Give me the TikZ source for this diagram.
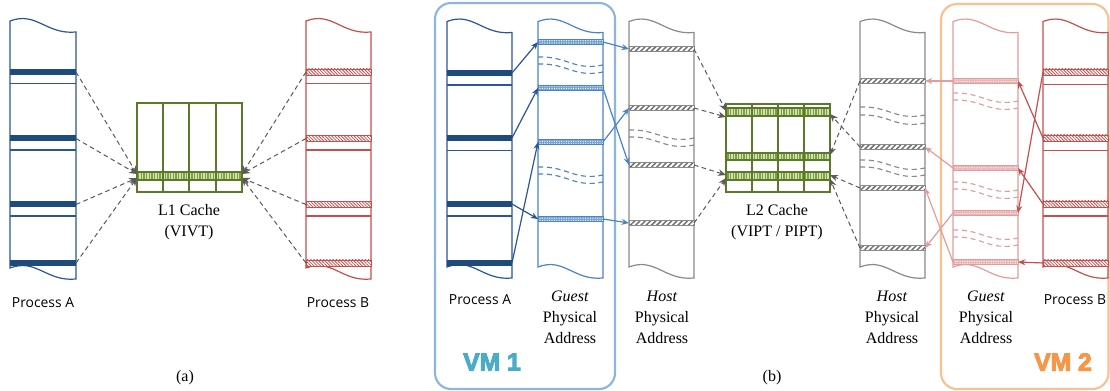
\documentclass[tikz,border=0pt]{standalone}
\usepackage{fontspec}
\setmainfont{Liberation Serif}
\newfontfamily\opensans{Open Sans}
\newfontface\vmfont[FakeBold=4]{Liberation Sans Bold}
\usetikzlibrary{arrows.meta,patterns.meta}
\definecolor{cAbar}{HTML}{1F4A7C}
\definecolor{cAline}{HTML}{2B5597}
\definecolor{cG1}{HTML}{4A84C6}
\definecolor{cHost}{HTML}{8A8A8A}
\definecolor{cHostD}{HTML}{6E6E6E}
\definecolor{cCache}{HTML}{5A7A2A}
\definecolor{cStripe}{HTML}{7DA23A}
\definecolor{cB}{HTML}{C4504D}
\definecolor{cG2}{HTML}{E39C9C}
\definecolor{cVMa}{HTML}{8DB4E2}
\definecolor{cVMaT}{HTML}{4BACC6}
\definecolor{cVMb}{HTML}{FAC090}
\definecolor{cVMbT}{HTML}{F79646}
\definecolor{cArr}{HTML}{5A5A5A}
\newcommand\mycol[5]{%
  \pgfmathsetmacro\cw{#3-#2}
  \draw[#1] (#2,#4) .. controls ({#2+0.4*\cw},{#4-10}) and ({#2+0.55*\cw},{#4+14}) .. (#3,{#4+11})
    -- (#3,{#5+11}) .. controls ({#2+0.55*\cw},{#5+14}) and ({#2+0.4*\cw},{#5-10}) .. (#2,#5) -- cycle;}
\newcommand\dwv[4]{%
  \pgfmathsetmacro\cw{#3-#2}
  \draw[#1] (#2,#4) .. controls ({#2+0.45*\cw},{#4-1}) and ({#2+0.55*\cw},{#4+14}) .. (#3,{#4+8});}
\begin{document}
\begin{tikzpicture}[x=0.75pt,y=-0.75pt,
  colA/.style={draw=cAline,line width=0.9pt,fill=white},
  colG1/.style={draw=cG1,line width=0.9pt,fill=white},
  colH/.style={draw=cHost,line width=0.9pt,fill=white},
  colG2/.style={draw=cG2,line width=0.9pt,fill=white},
  colB/.style={draw=cB,line width=0.9pt,fill=white},
  barA/.style={fill=cAbar},
  barB/.style={draw=cB,line width=0.6pt,preaction={fill=white},pattern={Lines[angle=-45,distance=1.7pt,line width=0.6pt]},pattern color=cB},
  barG1/.style={draw=cG1,line width=0.6pt,preaction={fill=cG1!75},pattern={Dots[distance=1.8pt,radius=0.45pt]},pattern color=white},
  barG2/.style={draw=cG2,line width=0.6pt,preaction={fill=cG2!75},pattern={Dots[distance=1.8pt,radius=0.45pt]},pattern color=white},
  barH/.style={draw=cHost,line width=0.7pt,preaction={fill=white},pattern={Lines[angle=45,distance=2.8pt,line width=1.1pt]},pattern color=cHostD},
  sepline/.style={line width=0.8pt},
  cachebox/.style={draw=cCache,line width=0.9pt,fill=white},
  stripes/.style={preaction={fill=cStripe!35},pattern={Lines[angle=90,distance=2pt,line width=0.8pt]},pattern color=cStripe},
  grid/.style={draw=cCache,line width=0.9pt},
  dwave/.style={dash pattern=on 3.8pt off 2.8pt,line width=0.85pt},
  garr/.style={draw=cArr,line width=0.75pt,dash pattern=on 3.5pt off 2.5pt,-{Stealth[length=6pt,width=5pt]}},
  aarr/.style={draw=cAline,line width=0.9pt,-{Stealth[length=5.5pt,width=4.5pt]}},
  g1arr/.style={draw=cG1,line width=0.9pt,-{Stealth[length=5.5pt,width=4.5pt]}},
  barr/.style={draw=cB,line width=0.9pt,-{Stealth[length=5.5pt,width=4.5pt]}},
  g2arr/.style={draw=cG2,line width=0.9pt,-{Stealth[length=5.5pt,width=4.5pt]}},
  sanslbl/.style={font=\opensans\fontsize{10.4}{12}\selectfont,inner sep=0pt},
  serlbl/.style={font=\fontsize{12}{16}\selectfont,align=center,inner sep=0pt},
  addrlbl/.style={font=\fontsize{12}{15.75}\selectfont,align=center,inner sep=0pt},
  vmlbl/.style={font=\vmfont\fontsize{18.5}{20}\selectfont,inner sep=0pt},
  vmbox/.style={line width=1.6pt,rounded corners=12pt}
]
\useasboundingbox (0,0) rectangle (1110,391);

% ---------------- panel (a) ----------------
\mycol{colA}{10}{76}{21}{268}
\foreach \i/\c in {1/72,2/138.5,3/204.5,4/263}{
  \fill[barA] (10,\c-3) rectangle (76,\c+3);
  \coordinate (aA\i) at (76,\c);}
\foreach \c in {72,138.5,204.5}{\draw[cAline,sepline] (10,\c+11.5) -- (76,\c+11.5);}

\mycol{colB}{306}{371}{21}{268}
\foreach \i/\c in {1/72,2/138.5,3/204.5,4/263}{
  \draw[barB] (306,\c-3) rectangle (371,\c+3);
  \coordinate (aB\i) at (306,\c);}
\foreach \c in {72,138.5,204.5}{\draw[cB,sepline] (306,\c+11.5) -- (371,\c+11.5);}

% L1 cache
\draw[cachebox] (137,103) rectangle (242,192);
\path[stripes] (137,172) rectangle (242,180);
\foreach \x in {163,189,216}{\draw[grid] (\x,103) -- (\x,192);}
\draw[grid] (137,172) -- (242,172) (137,180) -- (242,180);
\draw[grid] (137,103) rectangle (242,192);
\coordinate (L1wu) at (137,174);
\coordinate (L1wd) at (137,178);
\coordinate (L1eu) at (242,174);
\coordinate (L1ed) at (242,178);

\draw[garr] (aA1) -- (L1wu);
\draw[garr] (aA2) -- (L1wu);
\draw[garr] (aA3) -- (L1wd);
\draw[garr] (aA4) -- (L1wd);
\draw[garr] (aB1) -- (L1eu);
\draw[garr] (aB2) -- (L1eu);
\draw[garr] (aB3) -- (L1ed);
\draw[garr] (aB4) -- (L1ed);

\node[sanslbl] (tpa) at (43,303) {Process A};
\node[sanslbl] (tpb) at (338,303) {Process B};
\node[serlbl] (tl1) at (189,222) {L1 Cache\\(VIVT)};
\node[serlbl] (tcapa) at (185,378) {(a)};

% ---------------- panel (b) ----------------
\draw[vmbox,draw=cVMa] (435,3) rectangle (615,389);
\draw[vmbox,draw=cVMb] (941,4) rectangle (1108.5,389);
\node[vmlbl,text=cVMaT] (tvm1) at (492,362) {VM 1};
\node[vmlbl,text=cVMbT] (tvm2) at (1063,362) {VM 2};

% Process A
\mycol{colA}{447}{512}{21.5}{267}
\foreach \i/\c in {1/73,2/138,3/204,4/263}{
  \fill[barA] (447,\c-3) rectangle (512,\c+3);
  \coordinate (pA\i) at (512,\c);}
\foreach \c in {73,138.5,204}{\draw[cAline,sepline] (447,\c+12) -- (512,\c+12);}

% Guest 1
\mycol{colG1}{538}{603}{21.5}{267}
\foreach \c in {57,64,167,174}{\dwv{draw=cG1,dwave}{538}{603}{\c}}
\foreach \i/\c in {1/42,2/88,3/142,4/219}{
  \draw[barG1] (538,\c-2.5) rectangle (603,\c+2.5);
  \coordinate (gAl\i) at (538,\c);
  \coordinate (gAr\i) at (603,\c);}

% Host 1
\mycol{colH}{629}{694}{21.5}{267}
\foreach \c in {130,137}{\dwv{draw=cHost,dwave}{629}{694}{\c}}
\foreach \i/\c in {1/49,2/108,3/165,4/223}{
  \draw[barH] (629,\c-2.5) rectangle (694,\c+2.5);
  \coordinate (hAl\i) at (629,\c);
  \coordinate (hAr\i) at (694,\c);}

% L2 cache
\draw[cachebox] (726,104) rectangle (830,192);
\path[stripes] (726,108) rectangle (830,116);
\path[stripes] (726,153) rectangle (830,160);
\path[stripes] (726,172) rectangle (830,180);
\foreach \x in {752,778,804}{\draw[grid] (\x,104) -- (\x,192);}
\foreach \y in {108,116,153,160,172,180}{\draw[grid] (726,\y) -- (830,\y);}
\draw[grid] (726,104) rectangle (830,192);
\coordinate (L2w1a) at (726,111);
\coordinate (L2w1b) at (726,117);
\coordinate (L2w3a) at (726,175);
\coordinate (L2w3b) at (726,178);
\coordinate (L2e2) at (830,155);
\coordinate (L2e1) at (830,114);
\coordinate (L2e3a) at (830,175);
\coordinate (L2e3b) at (830,179);

% Host 2
\mycol{colH}{860}{925}{21.5}{267}
\foreach \c in {107,115,160,167}{\dwv{draw=cHost,dwave}{860}{925}{\c}}
\foreach \i/\c in {1/81,2/147,3/188,4/248}{
  \draw[barH] (860,\c-2.5) rectangle (925,\c+2.5);
  \coordinate (hBl\i) at (860,\c);
  \coordinate (hBr\i) at (925,\c);}

% Guest 2
\mycol{colG2}{953}{1018}{21.5}{267}
\foreach \c in {93,100,182,189,230,237}{\dwv{draw=cG2,dwave}{953}{1018}{\c}}
\foreach \i/\c in {1/81,2/168,3/213,4/262}{
  \draw[barG2] (953,\c-2.5) rectangle (1018,\c+2.5);
  \coordinate (gBl\i) at (953,\c);
  \coordinate (gBr\i) at (1018,\c);}

% Process B
\mycol{colB}{1043}{1108}{21.5}{267}
\foreach \i/\c in {1/72,2/138,3/204,4/263}{
  \draw[barB] (1043,\c-3) rectangle (1108,\c+3);
  \coordinate (pB\i) at (1043,\c);}
\foreach \c in {72.5,138.5,204}{\draw[cB,sepline] (1043,\c+12) -- (1108,\c+12);}

% connectors VM1
\draw[aarr] (pA1) -- (gAl1);
\draw[aarr] (pA2) -- (gAl2);
\draw[aarr] (pA3) -- (gAl4);
\draw[aarr] (pA4) -- (gAl3);
\draw[g1arr] (gAr1) -- (hAl1);
\draw[g1arr] (gAr2) -- (hAl3);
\draw[g1arr] (gAr3) -- (hAl2);
\draw[g1arr] (gAr4) -- (hAl4);
% host -> L2
\draw[garr] (hAr1) -- (L2w1a);
\draw[garr] (hAr2) -- (L2w1b);
\draw[garr] (hAr3) -- (L2w3a);
\draw[garr] (hAr4) -- (L2w3b);
\draw[garr] (hBl1) -- (L2e2);
\draw[garr] (hBl2) -- (L2e1);
\draw[garr] (hBl3) -- (L2e3a);
\draw[garr] (hBl4) -- (L2e3b);
% connectors VM2
\draw[barr] (pB1) -- (gBr3);
\draw[barr] (pB2) -- (gBr1);
\draw[barr] (pB3) -- (gBr2);
\draw[barr] (pB4) -- (gBr4);
\draw[g2arr] (gBl1) -- (hBr1);
\draw[g2arr] (gBl2) -- (hBr2);
\draw[g2arr] (gBl3) -- (hBr4);
\draw[g2arr] (gBl4) -- (hBr3);

% labels (b)
\node[sanslbl] (tpa2) at (480,300) {Process A};
\node[addrlbl] (tg1) at (570,317) {\textit{Guest}\\Physical\\Address};
\node[addrlbl] (th1) at (662,317) {\textit{Host}\\Physical\\Address};
\node[serlbl] (tl2) at (777,222) {L2 Cache\\(VIPT / PIPT)};
\node[addrlbl] (th2) at (892,317) {\textit{Host}\\Physical\\Address};
\node[addrlbl] (tg2) at (986,317) {\textit{Guest}\\Physical\\Address};
\node[sanslbl] (tpb2) at (1075,300) {Process B};
\node[serlbl] (tcapb) at (772,378) {(b)};
\end{tikzpicture}
\end{document}
